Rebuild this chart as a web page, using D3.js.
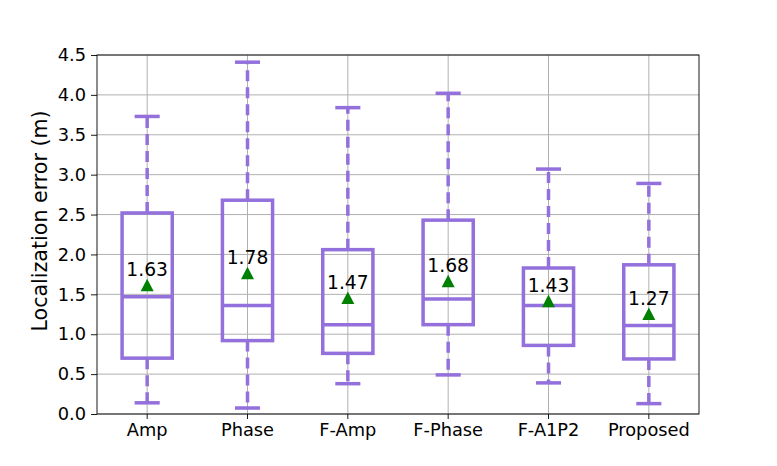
<!DOCTYPE html>
<html>
<head>
<meta charset="utf-8">
<script src="https://cdn.jsdelivr.net/npm/d3@7/dist/d3.min.js"></script>
<style>
body{margin:0;background:#fff;}
svg{display:block;font-family:"DejaVu Sans",sans-serif;}
</style>
</head>
<body>
<svg id="chart" width="777" height="466"></svg>
<script>
const categories = ["Amp","Phase","F-Amp","F-Phase","F-A1P2","Proposed"];
const whiskerLow  = [0.14, 0.075, 0.38, 0.49, 0.39, 0.13];
const q1          = [0.70, 0.92, 0.76, 1.12, 0.86, 0.69];
const medians     = [1.47, 1.36, 1.12, 1.44, 1.36, 1.11];
const q3          = [2.52, 2.68, 2.06, 2.43, 1.83, 1.87];
const whiskerHigh = [3.73, 4.41, 3.84, 4.02, 3.07, 2.89];
const means       = [1.63, 1.78, 1.47, 1.68, 1.43, 1.27];
const yTicks      = [0,0.5,1.0,1.5,2.0,2.5,3.0,3.5,4.0,4.5];

const margin = {left:97, top:55, right:78, bottom:52};
const W = 777, H = 466;
const iw = W - margin.left - margin.right, ih = H - margin.top - margin.bottom;
const svg = d3.select("#chart");
const g = svg.append("g").attr("transform",`translate(${margin.left},${margin.top})`);

const x = d3.scaleBand().domain(categories).range([0, iw]).padding(0);
const y = d3.scaleLinear().domain([0,4.5]).range([ih,0]);
const color = "#9370DB";
const bw = x.bandwidth()*0.5;
const cw = x.bandwidth()*0.25;

// grid
g.append("g").selectAll("line").data(yTicks).join("line")
  .attr("x1",0).attr("x2",iw).attr("y1",d=>y(d)).attr("y2",d=>y(d))
  .attr("stroke","#b0b0b0").attr("stroke-width",1);
g.append("g").selectAll("line").data(categories).join("line")
  .attr("x1",d=>x(d)+x.bandwidth()/2).attr("x2",d=>x(d)+x.bandwidth()/2)
  .attr("y1",0).attr("y2",ih)
  .attr("stroke","#b0b0b0").attr("stroke-width",1);

const data = categories.map((c,i)=>({c, lo:whiskerLow[i], q1:q1[i], med:medians[i], q3:q3[i], hi:whiskerHigh[i], mean:means[i]}));
const bx = g.append("g").selectAll("g").data(data).join("g")
  .attr("transform",d=>`translate(${x(d.c)+x.bandwidth()/2},0)`);

// whiskers
bx.append("line").attr("x1",0).attr("x2",0).attr("y1",d=>y(d.q3)).attr("y2",d=>y(d.hi))
  .attr("stroke",color).attr("stroke-width",3.5).attr("stroke-dasharray","11,6");
bx.append("line").attr("x1",0).attr("x2",0).attr("y1",d=>y(d.q1)).attr("y2",d=>y(d.lo))
  .attr("stroke",color).attr("stroke-width",3.5).attr("stroke-dasharray","11,6");
// caps
bx.append("line").attr("x1",-cw/2).attr("x2",cw/2).attr("y1",d=>y(d.hi)).attr("y2",d=>y(d.hi))
  .attr("stroke",color).attr("stroke-width",3.5);
bx.append("line").attr("x1",-cw/2).attr("x2",cw/2).attr("y1",d=>y(d.lo)).attr("y2",d=>y(d.lo))
  .attr("stroke",color).attr("stroke-width",3.5);
// box
bx.append("rect").attr("x",-bw/2).attr("width",bw)
  .attr("y",d=>y(d.q3)).attr("height",d=>y(d.q1)-y(d.q3))
  .attr("fill","none").attr("stroke",color).attr("stroke-width",3.5);
// median
bx.append("line").attr("x1",-bw/2).attr("x2",bw/2).attr("y1",d=>y(d.med)).attr("y2",d=>y(d.med))
  .attr("stroke",color).attr("stroke-width",3.5);
// mean triangle (matplotlib '^' marker, bbox-centred)
function triPath(){ const p=d3.path(); p.moveTo(0,-6.3); p.lineTo(6.5,6.3); p.lineTo(-6.5,6.3); p.closePath(); return p.toString(); }
bx.append("path").attr("d",triPath()).attr("transform",d=>`translate(0,${y(d.mean)+1})`)
  .attr("fill","#008000");
bx.append("text").attr("x",0).attr("y",d=>y(d.mean)-7.5)
  .attr("text-anchor","middle").attr("font-size",18.7).attr("fill","#000")
  .text(d=>d.mean.toFixed(2));

// axes
const yAxis = g.append("g").call(d3.axisLeft(y).tickValues(yTicks).tickFormat(d3.format(".1f")).tickSizeOuter(0).tickSize(6).tickPadding(5));
const xAxis = g.append("g").attr("transform",`translate(0,${ih})`).call(d3.axisBottom(x).tickSizeOuter(0).tickSize(5).tickPadding(4));
[yAxis,xAxis].forEach(a=>{
  a.selectAll("text").attr("font-size",17.8).attr("fill","#000").attr("font-family","DejaVu Sans");
  a.selectAll("line").attr("stroke","#000").attr("stroke-width",0.9);
  a.select(".domain").remove();
});
// frame
g.append("rect").attr("x",0).attr("y",0).attr("width",iw).attr("height",ih)
  .attr("fill","none").attr("stroke","#000").attr("stroke-width",0.9);

svg.append("text").attr("transform",`translate(47,221) rotate(-90)`)
  .attr("text-anchor","middle").attr("font-size",20.6).attr("fill","#000")
  .text("Localization error (m)");
</script>
</body>
</html>
